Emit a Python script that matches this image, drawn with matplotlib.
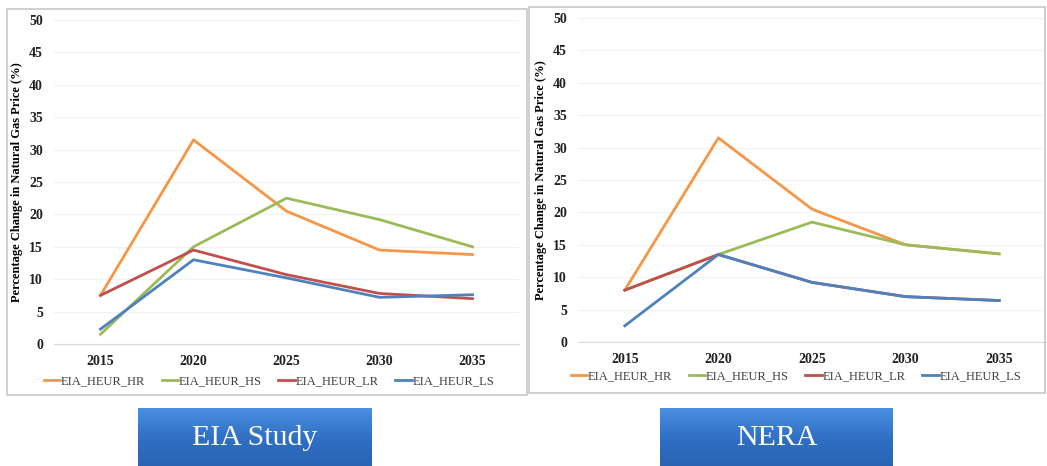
import numpy as np
import matplotlib
matplotlib.use('Agg')
import matplotlib.pyplot as plt
from matplotlib import patches

## two side-by-side line panels: EIA study vs NERA, natural gas price change

years = [2015, 2020, 2025, 2030, 2035]
series_names = ['EIA_HEUR_HR', 'EIA_HEUR_HS', 'EIA_HEUR_LR', 'EIA_HEUR_LS']
series_colors = ['#F79646', '#9BBB59', '#C0504D', '#4F81BD']

# EIA study panel
eia_hr = [7.5, 31.5, 20.5, 14.5, 13.8]
eia_hs = [1.5, 15.0, 22.5, 19.2, 15.0]
eia_lr = [7.5, 14.5, 10.7, 7.8, 7.0]
eia_ls = [2.3, 13.0, 10.2, 7.2, 7.6]

# NERA panel
nera_hr = [8.0, 31.5, 20.5, 15.0, 13.6]
nera_hs = [8.0, 13.5, 18.5, 15.0, 13.6]
nera_lr = [8.0, 13.5, 9.2, 7.0, 6.4]
nera_ls = [2.5, 13.5, 9.2, 7.0, 6.4]

yticks = list(range(0, 51, 5))
ylabel = 'Percentage Change in Natural Gas Price (%)'
box_labels = ['EIA Study', 'NERA']

W, H = 1047, 466
fig = plt.figure(figsize=(W / 100, H / 100), dpi=100)
plt.rcParams['font.family'] = ['Liberation Serif', 'DejaVu Serif']

def px_axes(x0, y0, x1, y1):
    # axes from pixel box (top-left origin)
    return fig.add_axes([x0 / W, 1 - y1 / H, (x1 - x0) / W, (y1 - y0) / H])

# panel frames
for (x0, y0, x1, y1) in [(7, 9, 527, 395), (529, 7, 1045, 393)]:
    fig.add_artist(patches.Rectangle((x0 / W, 1 - y1 / H), (x1 - x0) / W, (y1 - y0) / H,
                                     transform=fig.transFigure, facecolor='none',
                                     edgecolor='#c8c8c8', linewidth=1.2))

panels = [
    ((54, 20, 519, 344), [eia_hr, eia_hs, eia_lr, eia_ls], 381, 269),
    ((578, 18, 1046, 342), [nera_hr, nera_hs, nera_lr, nera_ls], 376, 796),
]

for (box, data, leg_y, leg_x) in panels:
    ax = px_axes(*box)
    for name, vals, c in zip(series_names, data, series_colors):
        ax.plot(years, vals, color=c, linewidth=2.0, label=name)
    ax.set_xlim(2012.5, 2037.5)
    ax.set_ylim(0, 50)
    ax.set_xticks(years)
    ax.set_yticks(yticks)
    ax.tick_params(length=0, labelsize=10, pad=8, colors='#222222')
    for lab in ax.get_xticklabels() + ax.get_yticklabels():
        lab.set_fontweight('bold')
    ax.grid(axis='y', color='#f2f2f2', linewidth=0.8)
    for s in ['top', 'right', 'left']:
        ax.spines[s].set_visible(False)
    ax.spines['bottom'].set_color('#d9d9d9')
    ax.set_ylabel(ylabel, fontsize=9, fontweight='bold', labelpad=4)
    bw = box[2] - box[0]
    bh = box[3] - box[1]
    ax.legend(loc='center', bbox_to_anchor=((leg_x - box[0]) / bw, -(leg_y - box[3]) / bh),
              ncol=4, frameon=False, fontsize=9, handlelength=1.3, handletextpad=0.1,
              columnspacing=1.3, labelcolor='#404040', borderaxespad=0)

# blue title boxes with vertical gradient
grad = np.linspace(0, 1, 64).reshape(-1, 1)
blue = matplotlib.colors.LinearSegmentedColormap.from_list('b', ['#4a8fe0', '#2f6fc4', '#2a62b0'])
for (x0, x1), text in zip([(138, 372), (660, 893)], box_labels):
    bx = px_axes(x0, 408, x1, 470)
    bx.imshow(grad, aspect='auto', cmap=blue, extent=[0, 1, 0, 1], origin='upper')
    bx.set_axis_off()
    bx.text(0.5, 0.52, text, color='white', fontsize=21.5, ha='center', va='center',
            transform=bx.transAxes)

fig.savefig('out.png', dpi=100)
